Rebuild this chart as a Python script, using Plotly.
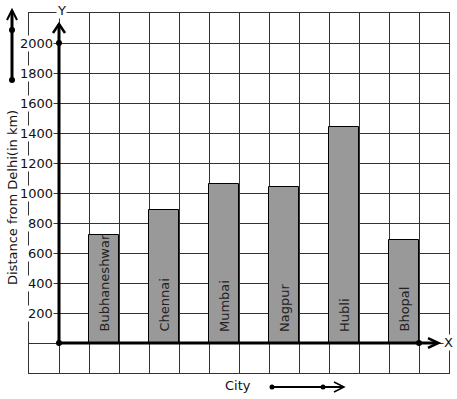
import plotly.graph_objects as go

cities = ["Bubhaneshwar", "Chennai", "Mumbai", "Nagpur", "Hubli", "Bhopal"]
distances = [720, 890, 1060, 1040, 1440, 690]
bar_x = [1.5, 3.5, 5.5, 7.5, 9.5, 11.5]
y_ticks = [200, 400, 600, 800, 1000, 1200, 1400, 1600, 1800, 2000]

W, H = 457, 399
L, R, T, B = 29, 8, 13, 26
PW, PH = W - L - R, H - T - B


def px(x):
    return (x - L) / PW


def py(y):
    return (H - B - y) / PH


FONT = "DejaVu Sans"
fig = go.Figure()
fig.add_trace(go.Bar(
    x=bar_x, y=distances, width=1,
    marker=dict(color="#999999", line=dict(color="#000000", width=1)),
    hoverinfo="skip",
))

shapes = []
ann = []
# bar labels
for xc, name in zip(bar_x, cities):
    ann.append(dict(x=xc, y=0, xref="x", yref="y", text=name, textangle=-90,
                    showarrow=False, yanchor="bottom", xanchor="center", yshift=9,
                    font=dict(family=FONT, size=13, color="#222222")))
# y tick labels
for v in y_ticks:
    ann.append(dict(x=0, y=v, xref="x", yref="y", text=str(v), showarrow=False,
                    xanchor="right", yanchor="middle", xshift=-5, bgcolor="white",
                    borderpad=0, font=dict(family=FONT, size=13, color="#111111")))

# axes lines (data coords)
lw = 3
shapes.append(dict(type="line", xref="x", yref="y", x0=0, y0=0, x1=0, y1=2127,
                   line=dict(color="black", width=lw)))
shapes.append(dict(type="path", xref="x", yref="y",
                   path="M -0.2 2067 L 0 2127 L 0.2 2067",
                   line=dict(color="black", width=2.5)))
shapes.append(dict(type="line", xref="x", yref="y", x0=0, y0=0, x1=12.6, y1=0,
                   line=dict(color="black", width=lw)))
shapes.append(dict(type="path", xref="x", yref="y",
                   path="M 12.3 33 L 12.65 0 L 12.3 -33",
                   line=dict(color="black", width=2.5)))

# left decorative arrow (paper coords)
shapes.append(dict(type="line", xref="paper", yref="paper", x0=px(12), y0=py(80),
                   x1=px(12), y1=py(11), line=dict(color="black", width=3)))
shapes.append(dict(type="path", xref="paper", yref="paper",
                   path=f"M {px(7)} {py(20)} L {px(12)} {py(10)} L {px(17)} {py(20)}",
                   line=dict(color="black", width=2)))
for yy in (30, 80):
    shapes.append(dict(type="circle", xref="paper", yref="paper",
                       x0=px(9), x1=px(15), y0=py(yy - 3), y1=py(yy + 3),
                       fillcolor="black", line=dict(color="black", width=0)))
# city arrow
shapes.append(dict(type="line", xref="paper", yref="paper", x0=px(272), y0=py(387),
                   x1=px(343), y1=py(387), line=dict(color="black", width=2)))
shapes.append(dict(type="path", xref="paper", yref="paper",
                   path=f"M {px(334)} {py(382)} L {px(344)} {py(387)} L {px(334)} {py(392)}",
                   line=dict(color="black", width=1.5)))
for xx in (272, 323):
    shapes.append(dict(type="circle", xref="paper", yref="paper",
                       x0=px(xx - 2.5), x1=px(xx + 2.5), y0=py(387 - 2.5), y1=py(387 + 2.5),
                       fillcolor="black", line=dict(color="black", width=0)))

# axis dots
fig.add_trace(go.Scatter(x=[0, 0, 12], y=[0, 2000, 0], mode="markers",
                         marker=dict(color="black", size=6), cliponaxis=False,
                         hoverinfo="skip"))

ann.append(dict(x=px(61), y=py(10), xref="paper", yref="paper", text="Y", showarrow=False,
                xanchor="center", yanchor="middle",
                bgcolor="white", borderpad=0, font=dict(family=FONT, size=13, color="#111111")))
ann.append(dict(x=px(448), y=py(342), xref="paper", yref="paper", text="X", showarrow=False,
                xanchor="center", yanchor="middle",
                bgcolor="white", borderpad=0, font=dict(family=FONT, size=13, color="#111111")))
ann.append(dict(x=px(238), y=py(385), xref="paper", yref="paper", text="City", showarrow=False,
                xanchor="center", yanchor="middle",
                font=dict(family=FONT, size=13, color="#111111")))
ann.append(dict(x=px(13), y=py(198), xref="paper", yref="paper", text="Distance from Delhi(in km)",
                xanchor="center", yanchor="middle",
                textangle=-90, showarrow=False, font=dict(family=FONT, size=13, color="#111111")))

grid = "#333333"
fig.update_layout(
    width=W, height=H, margin=dict(l=L, r=R, t=T, b=B),
    paper_bgcolor="white", plot_bgcolor="white", showlegend=False,
    shapes=shapes, annotations=ann, bargap=0,
    xaxis=dict(range=[-1, 13], dtick=1, tick0=0, showgrid=True, gridcolor=grid, gridwidth=1,
               zeroline=False, showticklabels=False, ticks="", showline=True, mirror=True,
               linecolor=grid, linewidth=1, fixedrange=True),
    yaxis=dict(range=[-200, 2200], dtick=200, tick0=0, showgrid=True, gridcolor=grid, gridwidth=1,
               zeroline=False, showticklabels=False, ticks="", showline=True, mirror=True,
               linecolor=grid, linewidth=1, fixedrange=True),
)
fig.write_html("out.html", config={"displayModeBar": False},
               post_script="document.body.style.margin='0px';")
